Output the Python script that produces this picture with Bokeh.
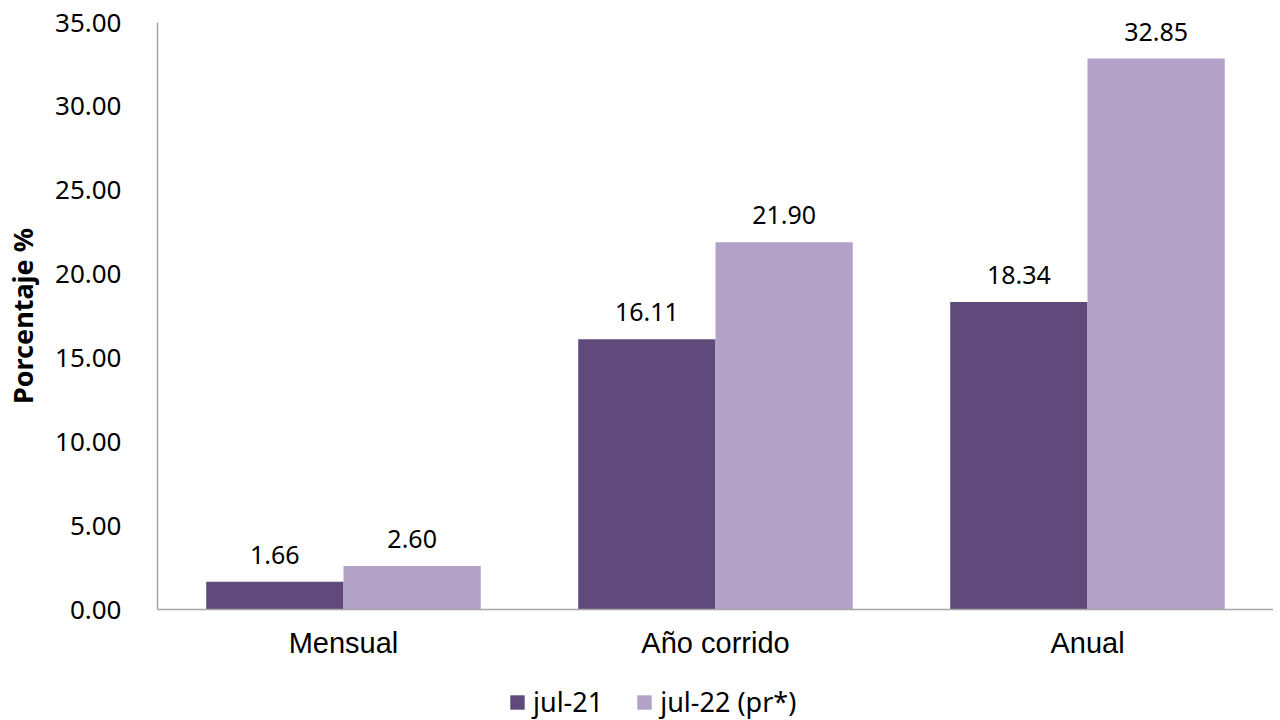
from bokeh.plotting import figure
from bokeh.layouts import column
from bokeh.models import ColumnDataSource, Legend, LegendItem, NumeralTickFormatter, Range1d, LabelSet
from bokeh.transform import dodge
from bokeh.core.properties import value
from bokeh.embed import file_html
from bokeh.resources import INLINE

categories = ["Mensual", "Año corrido", "Anual"]
series_names = ["jul-21", "jul-22 (pr*)"]
jul21 = [1.66, 16.11, 18.34]
jul22 = [2.60, 21.90, 32.85]
colors = ["#604a7b", "#b3a2c7"]

src = ColumnDataSource(dict(
    cat=categories,
    a=jul21, b=jul22,
    a_lbl=[f"{v:.2f}" for v in jul21],
    b_lbl=[f"{v:.2f}" for v in jul22],
))

p = figure(x_range=categories, frame_width=1116, frame_height=587, output_backend="svg",
           toolbar_location=None, min_border_left=157, min_border_right=0,
           min_border_top=22, min_border_bottom=67)
p.y_range = Range1d(0, 35)
p.x_range.range_padding = 0

w = 0.369
r1 = p.vbar(x=dodge("cat", -w / 2, range=p.x_range), top="a", width=w, source=src,
            fill_color=colors[0], line_color=None)
r2 = p.vbar(x=dodge("cat", w / 2, range=p.x_range), top="b", width=w, source=src,
            fill_color=colors[1], line_color=None)

for col, lbl, off in (("a", "a_lbl", -w / 2), ("b", "b_lbl", w / 2)):
    ls = LabelSet(x=dodge("cat", off, range=p.x_range), y=col, text=lbl, source=src,
                  text_align="center", text_baseline="bottom", y_offset=18,
                  text_font=value("Noto Sans"), text_font_size="25px", text_color="#000000")
    p.add_layout(ls)

p.grid.visible = False
p.outline_line_color = None
p.background_fill_color = "white"

p.yaxis.ticker = [0, 5, 10, 15, 20, 25, 30, 35]
p.yaxis.formatter = NumeralTickFormatter(format="0.00")
p.yaxis.major_tick_line_color = None
p.yaxis.minor_tick_line_color = None
p.yaxis.axis_line_color = "#a6a6a6"
p.yaxis.axis_line_width = 1.5
p.yaxis.major_label_text_font = "Noto Sans"
p.yaxis.major_label_text_font_size = "26px"
p.yaxis.major_label_text_color = "#000000"
p.yaxis.major_label_standoff = 30
p.yaxis.axis_label = "Porcentaje %"
p.yaxis.axis_label_text_font = "Noto Sans"
p.yaxis.axis_label_text_font_style = "bold"
p.yaxis.axis_label_text_font_size = "27px"
p.yaxis.axis_label_text_color = "#000000"
p.yaxis.axis_label_standoff = 11

p.xaxis.major_tick_line_color = None
p.xaxis.minor_tick_line_color = None
p.xaxis.axis_line_color = "#a6a6a6"
p.xaxis.axis_line_width = 1.5
p.xaxis.major_label_text_font = "Liberation Sans"
p.xaxis.major_label_text_font_size = "29px"
p.xaxis.major_label_text_color = "#000000"
p.xaxis.major_label_standoff = 11

# legend strip below the chart
lg = figure(frame_width=1116, height=44, output_backend="svg", toolbar_location=None,
            min_border=0, min_border_left=157, x_range=(0, 1), y_range=(0, 1),
            x_axis_type=None, y_axis_type=None)
lg.grid.visible = False
lg.outline_line_color = None
dummy = ColumnDataSource(dict(x=[0.5], top=[0]))
g1 = lg.vbar(x="x", top="top", width=0.1, source=dummy, fill_color=colors[0], line_color=None)
g2 = lg.vbar(x="x", top="top", width=0.1, source=dummy, fill_color=colors[1], line_color=None)
legend = Legend(items=[LegendItem(label=series_names[0], renderers=[g1]),
                       LegendItem(label=series_names[1], renderers=[g2])],
                orientation="horizontal", location=(351, 0),
                label_text_font="Noto Sans", label_text_font_size="27px",
                label_text_color="#000000",
                glyph_width=18, glyph_height=18, spacing=32, label_standoff=7,
                border_line_color=None, background_fill_alpha=0,
                margin=0, padding=2)
lg.add_layout(legend, "center")

layout = column(p, lg, spacing=0)
open("out.html", "w").write(file_html(layout, INLINE))
